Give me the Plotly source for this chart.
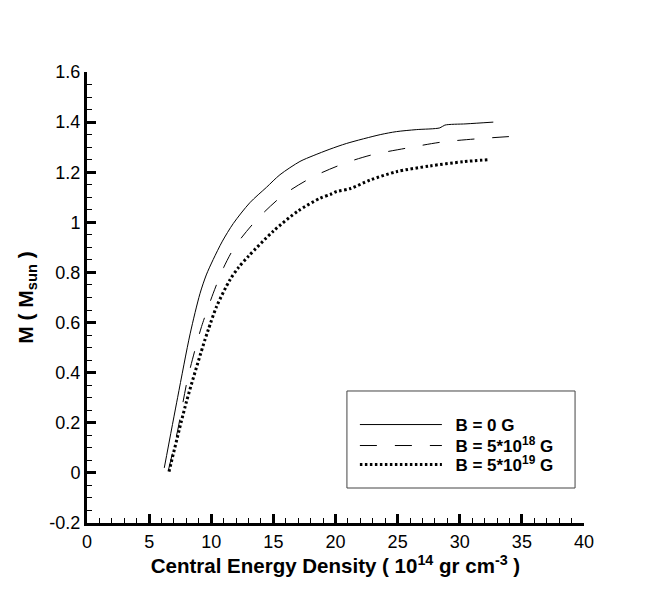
import plotly.graph_objects as go

# B = 0 G
x_b0 = [6.22, 7.29, 8.3, 9.09, 9.6, 10.16, 10.9, 11.77, 13.1, 14.45, 15.53, 17.14, 18.2, 19.55, 20.9, 23.6, 24.9, 26.5, 28.4, 28.8, 30.5, 32.7]
y_b0 = [0.02, 0.30, 0.555, 0.715, 0.79, 0.852, 0.925, 0.995, 1.078, 1.14, 1.19, 1.243, 1.266, 1.292, 1.315, 1.350, 1.362, 1.370, 1.377, 1.388, 1.393, 1.40]

# B = 5*10^18 G
x_b18 = [6.55, 7.3, 7.56, 8.09, 8.8, 9.22, 10.16, 11.0, 11.9, 13.65, 15.8, 18.2, 20.75, 22.9, 25.7, 28.5, 31.3, 34.8]
y_b18 = [0.01, 0.17, 0.238, 0.374, 0.511, 0.584, 0.717, 0.82, 0.903, 1.01, 1.109, 1.182, 1.236, 1.269, 1.296, 1.32, 1.333, 1.345]

# B = 5*10^19 G
x_b19 = [6.6, 8.01, 9.49, 9.76, 10.43, 11.5, 12.2, 13.0, 15.0, 17.0, 18.75, 19.6, 20.1, 21.2, 22.8, 24.9, 27.6, 30.3, 32.3]
y_b19 = [0.005, 0.285, 0.531, 0.571, 0.664, 0.77, 0.82, 0.865, 0.965, 1.046, 1.096, 1.112, 1.123, 1.135, 1.169, 1.202, 1.225, 1.242, 1.25]

series_names = ["\u2002B = 0 G", "\u2002B = 5*10<sup>18</sup> G", "\u2002B = 5*10<sup>19</sup> G"]

x_tickvals = [0, 5, 10, 15, 20, 25, 30, 35, 40]
x_ticktext = ["0", "5", "10", "15", "20", "25", "30", "35", "40"]
y_tickvals = [-0.2, 0, 0.2, 0.4, 0.6, 0.8, 1.0, 1.2, 1.4, 1.6]
y_ticktext = ["-0.2", "0", "0.2", "0.4", "0.6", "0.8", "1", "1.2", "1.4", "1.6"]

FONT = "Liberation Sans, Arial, sans-serif"

fig = go.Figure()
fig.add_trace(go.Scatter(x=x_b0, y=y_b0, mode="lines", name=series_names[0], legend="legend",
                         line=dict(color="black", width=1, shape="spline", smoothing=0.8)))
fig.add_trace(go.Scatter(x=x_b18, y=y_b18, mode="lines", name=series_names[1], legend="legend2",
                         line=dict(color="black", width=1, dash="17px,18px", shape="spline", smoothing=0.8)))
fig.add_trace(go.Scatter(x=x_b19, y=y_b19, mode="lines", name=series_names[2], legend="legend3",
                         line=dict(color="black", width=3, dash="2.5px,2.5px", shape="spline", smoothing=0.8)))

axis_common = dict(
    showgrid=False, zeroline=False, showline=True, linecolor="black", linewidth=3,
    ticks="inside", tickcolor="black", tickwidth=2.5, ticklen=9,
    tickfont=dict(family=FONT, size=18, color="black"),
    tickmode="array", mirror=False,
)

fig.update_xaxes(**axis_common, range=[0, 40], tickvals=x_tickvals, ticktext=x_ticktext,
                 minor=dict(dtick=1, ticks="inside", ticklen=5, tickwidth=1, tickcolor="black", showgrid=False),
                 title=dict(text="Central Energy Density ( 10<sup>14</sup> gr cm<sup>-3</sup> )",
                            font=dict(family=FONT, size=20.5, color="black", weight="bold"),
                            standoff=8))
fig.update_yaxes(**axis_common, range=[-0.2, 1.6], tickvals=y_tickvals, ticktext=y_ticktext,
                 minor=dict(dtick=0.05, ticks="inside", ticklen=5, tickwidth=1, tickcolor="black", showgrid=False),
                 title=dict(text="M ( M<sub>sun</sub> )",
                            font=dict(family=FONT, size=21, color="black", weight="bold"),
                            standoff=11))

# legend frame
fig.add_shape(type="rect", xref="paper", yref="paper", x0=0.523, x1=0.982, y0=0.0776, y1=0.2927,
              line=dict(color="#444", width=1), fillcolor="rgba(0,0,0,0)", layer="above")

legend_rows_y = [0.2173, 0.1708, 0.1286]
leg_common = dict(x=0.539, xanchor="left", yanchor="middle", borderwidth=0,
                  bgcolor="rgba(0,0,0,0)", itemwidth=82,
                  font=dict(family=FONT, size=17, color="black", weight="bold"))

fig.update_layout(
    width=664, height=591,
    margin=dict(l=79, r=88, t=64, b=76),
    plot_bgcolor="white", paper_bgcolor="white",
    legend=dict(y=legend_rows_y[0], **leg_common),
    legend2=dict(y=legend_rows_y[1], **leg_common),
    legend3=dict(y=legend_rows_y[2], **leg_common),
    showlegend=True,
)

fig.write_html("out.html")
